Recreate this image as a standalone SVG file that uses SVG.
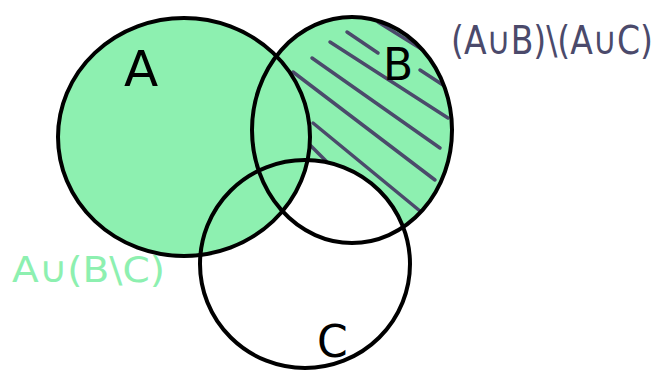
<svg xmlns="http://www.w3.org/2000/svg" width="661" height="371" viewBox="0 0 661 371">
<style>
.fill{fill:#8df0b0;stroke:none}
.out{fill:none;stroke:#000;stroke-width:4}
.hatch{stroke:#4b4a6b;stroke-width:3.5;stroke-linecap:round;fill:none}
.lbl{font-family:"DejaVu Sans","Liberation Sans",sans-serif}
</style>
<defs>
<clipPath id="clipB"><ellipse cx="352" cy="130" rx="100" ry="113"/></clipPath>
</defs>
<rect width="661" height="371" fill="#fff"/>
<g id="fills">
<ellipse class="fill" cx="352" cy="130" rx="100" ry="113"/>
<ellipse cx="305" cy="264" rx="105" ry="104" fill="#fff"/>
<ellipse class="fill" cx="184" cy="137" rx="126" ry="119"/>
</g>
<g id="hatching" clip-path="url(#clipB)">
<line class="hatch" x1="378" y1="22" x2="423" y2="50"/>
<line class="hatch" x1="347" y1="32" x2="378" y2="53"/>
<line class="hatch" x1="420" y1="70" x2="443" y2="85"/>
<line class="hatch" x1="330" y1="42" x2="448" y2="118"/>
<line class="hatch" x1="312" y1="58" x2="440" y2="148"/>
<line class="hatch" x1="293" y1="72" x2="435" y2="180"/>
<line class="hatch" x1="313" y1="123" x2="420" y2="211"/>
<line class="hatch" x1="310" y1="145" x2="327" y2="162"/>
</g>
<g id="A"><ellipse class="out" cx="184" cy="137" rx="126" ry="119"/><text class="lbl" x="124" y="86" font-size="50">A</text></g>
<g id="B"><ellipse class="out" cx="352" cy="130" rx="100" ry="113"/><text class="lbl" x="383" y="80" font-size="44">B</text></g>
<g id="C"><ellipse class="out" cx="305" cy="264" rx="105" ry="104"/><text class="lbl" x="317" y="357" font-size="44">C</text></g>
<g id="labels">
<text class="lbl" transform="translate(451,54) scale(1,1.2)" x="0" y="0" font-size="32" fill="#4b4a6b" textLength="202" lengthAdjust="spacingAndGlyphs">(A∪B)\(A∪C)</text>
<text class="lbl" x="12" y="282" font-size="36" fill="#8df0b0" textLength="153" lengthAdjust="spacingAndGlyphs">A∪(B\C)</text>
</g>
</svg>
